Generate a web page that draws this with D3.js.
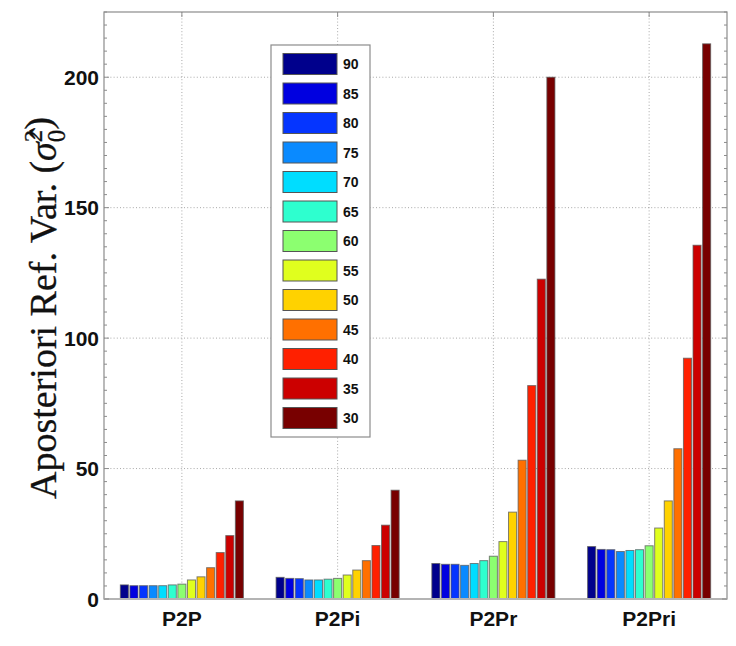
<!DOCTYPE html>
<html>
<head>
<meta charset="utf-8">
<script src="https://cdn.jsdelivr.net/npm/d3@7"></script>
<style>
  html, body { margin: 0; padding: 0; background: #fff; }
  svg { display: block; }
</style>
</head>
<body>
<svg id="chart" width="736" height="646"></svg>
<script>
// Methods compared along the x axis
const categories = ["P2P", "P2Pi", "P2Pr", "P2Pri"];
// Threshold levels, one bar per level within each method
const levels = [90, 85, 80, 75, 70, 65, 60, 55, 50, 45, 40, 35, 30];
// A-posteriori reference variance per level, for each method
const valuesP2P   = [5.4, 5.1, 5.1, 5.1, 5.1, 5.4, 5.7, 7.3, 8.5, 12.0, 17.8, 24.3, 37.6];
const valuesP2Pi  = [8.3, 7.9, 7.8, 7.3, 7.3, 7.6, 7.9, 9.2, 11.1, 14.7, 20.5, 28.3, 41.7];
const valuesP2Pr  = [13.6, 13.3, 13.3, 12.9, 13.6, 14.7, 16.4, 22.0, 33.3, 53.2, 81.8, 122.6, 200.0];
const valuesP2Pri = [20.1, 19.0, 18.9, 18.2, 18.6, 18.9, 20.4, 27.2, 37.6, 57.6, 92.3, 135.6, 212.8];
// Y axis ticks
const yTicks = [0, 50, 100, 150, 200];
const yMinorStep = 5;
const yMax = 225;

// jet-like palette, one colour per level
const levelColors = ["#00008c", "#0000e0", "#0535ff", "#0a8aff", "#00ddff", "#2effcf",
                     "#8cff70", "#e0ff1e", "#ffd200", "#ff7000", "#ff2000", "#cc0000", "#780000"];

const series = [valuesP2P, valuesP2Pi, valuesP2Pr, valuesP2Pri];

const svg = d3.select("#chart");
const L = 104, R = 727, T = 12, B = 599;

const x0 = d3.scaleBand().domain(categories).range([L, R]).paddingInner(0.2).paddingOuter(0.1);
const x1 = d3.scaleBand().domain(levels).range([0, x0.bandwidth()]).paddingInner(0.16).paddingOuter(0.08);
const y = d3.scaleLinear().domain([0, yMax]).range([B, T]);
const color = d3.scaleOrdinal().domain(levels).range(levelColors);

const gridColor = "#a8a8a8";
const axisColor = "#8c8c8c";

// dotted grid
const grid = svg.append("g");
grid.selectAll("line.h").data(yTicks.filter(d => d > 0)).join("line")
  .attr("x1", L).attr("x2", R)
  .attr("y1", d => y(d)).attr("y2", d => y(d))
  .attr("stroke", gridColor).attr("stroke-width", 1).attr("stroke-dasharray", "1,2.2");
grid.selectAll("line.v").data(categories).join("line")
  .attr("x1", d => x0(d) + x0.bandwidth() / 2).attr("x2", d => x0(d) + x0.bandwidth() / 2)
  .attr("y1", T).attr("y2", B)
  .attr("stroke", gridColor).attr("stroke-width", 1).attr("stroke-dasharray", "1,2.2");

// bars
const groups = svg.append("g").selectAll("g").data(categories).join("g")
  .attr("transform", d => `translate(${x0(d)},0)`);
groups.selectAll("rect").data((d, i) => levels.map((lv, j) => ({ lv, v: series[i][j] }))).join("rect")
  .attr("x", d => x1(d.lv))
  .attr("width", x1.bandwidth())
  .attr("y", d => y(d.v))
  .attr("height", d => y(0) - y(d.v))
  .attr("fill", d => color(d.lv))
  .attr("stroke", "#5a5a5a").attr("stroke-opacity", 0.75).attr("stroke-width", 1);

// frame
svg.append("rect").attr("x", L).attr("y", T).attr("width", R - L).attr("height", B - T)
  .attr("fill", "none").attr("stroke", axisColor).attr("stroke-width", 1.2);
svg.append("line").attr("x1", L).attr("x2", R).attr("y1", B).attr("y2", B)
  .attr("stroke", "#b4b4b4").attr("stroke-width", 2);

// inward ticks on left and right
const minor = d3.range(0, yMax + 0.01, yMinorStep).filter(v => !yTicks.includes(v));
const ticks = svg.append("g").attr("stroke", axisColor).attr("stroke-width", 1);
[[L, 1], [R, -1]].forEach(([x, dir]) => {
  ticks.append("g").selectAll("line").data(minor).join("line")
    .attr("x1", x).attr("x2", x + dir * 3).attr("y1", d => y(d)).attr("y2", d => y(d));
  ticks.append("g").selectAll("line").data(yTicks).join("line")
    .attr("x1", x).attr("x2", x + dir * 5).attr("y1", d => y(d)).attr("y2", d => y(d));
});
ticks.append("g").selectAll("line").data(categories).join("line")
  .attr("x1", d => x0(d) + x0.bandwidth() / 2).attr("x2", d => x0(d) + x0.bandwidth() / 2)
  .attr("y1", T).attr("y2", T + 5);

// tick labels
svg.append("g").selectAll("text").data(yTicks).join("text")
  .attr("x", L - 5).attr("y", d => y(d)).attr("dy", "0.36em")
  .attr("text-anchor", "end")
  .attr("font-family", "Liberation Sans, Arial, sans-serif").attr("font-weight", "bold")
  .attr("font-size", 21).attr("fill", "#111")
  .text(d => d);
svg.append("g").selectAll("text").data(categories).join("text")
  .attr("x", d => x0(d) + x0.bandwidth() / 2).attr("y", 626)
  .attr("text-anchor", "middle")
  .attr("font-family", "Liberation Sans, Arial, sans-serif").attr("font-weight", "bold")
  .attr("font-size", 21).attr("fill", "#111")
  .text(d => d);

// y axis title
const yt = svg.append("text")
  .attr("transform", "translate(56,308) rotate(-90)")
  .attr("text-anchor", "middle")
  .attr("font-family", "Liberation Serif, Times New Roman, serif")
  .attr("font-size", 38).attr("fill", "#111")
  .attr("stroke", "#111").attr("stroke-width", 0.3);
yt.append("tspan").text("Aposteriori Ref. Var. (");
yt.append("tspan").attr("font-style", "italic").text("σ\u0302");
yt.append("tspan").attr("font-size", 25).attr("dy", "-0.55em").text("2");
yt.append("tspan").attr("font-size", 25).attr("dx", "-0.5em").attr("dy", "0.9em").text("0");
yt.append("tspan").attr("dy", "-0.35em").text(")");

// legend
const lg = svg.append("g").attr("transform", "translate(271,45)");
lg.append("rect").attr("width", 99).attr("height", 392)
  .attr("fill", "#fff").attr("stroke", axisColor).attr("stroke-width", 1.2);
const item = lg.selectAll("g").data(levels).join("g")
  .attr("transform", (d, i) => `translate(0,${19 + i * 29.5})`);
item.append("rect").attr("x", 12).attr("y", -10.5).attr("width", 54).attr("height", 21)
  .attr("fill", d => color(d)).attr("stroke", "#555").attr("stroke-width", 1);
item.append("text").attr("x", 72).attr("dy", "0.36em")
  .attr("font-family", "Liberation Sans, Arial, sans-serif").attr("font-weight", "bold")
  .attr("font-size", 14).attr("fill", "#111")
  .text(d => d);
</script>
</body>
</html>
